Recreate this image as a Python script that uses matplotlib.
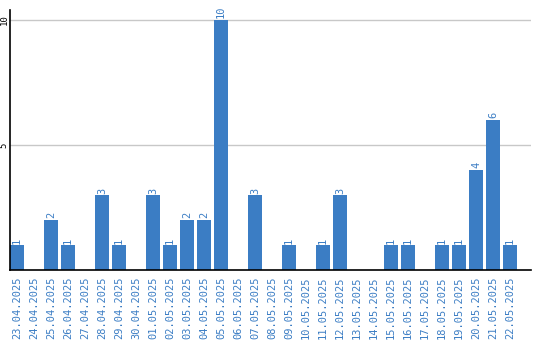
import matplotlib
matplotlib.use("Agg")
import matplotlib.pyplot as plt

dates = ["23.04.2025", "24.04.2025", "25.04.2025", "26.04.2025", "27.04.2025",
         "28.04.2025", "29.04.2025", "30.04.2025", "01.05.2025", "02.05.2025",
         "03.05.2025", "04.05.2025", "05.05.2025", "06.05.2025", "07.05.2025",
         "08.05.2025", "09.05.2025", "10.05.2025", "11.05.2025", "12.05.2025",
         "13.05.2025", "14.05.2025", "15.05.2025", "16.05.2025", "17.05.2025",
         "18.05.2025", "19.05.2025", "20.05.2025", "21.05.2025", "22.05.2025"]
values = [1, 0, 2, 1, 0, 3, 1, 0, 3, 1, 2, 2, 10, 0, 3, 0, 1, 0, 1, 3,
          0, 0, 1, 1, 0, 1, 1, 4, 6, 1]
yticks = [5, 10]

blue = "#3b7dc4"
font = "DejaVu Sans Mono"

fig = plt.figure(figsize=(5.4, 3.4), dpi=100)
W, H = 540, 340
left, right, top, bottom = 10, 531, 10, 270
ax = fig.add_axes([left / W, 1 - bottom / H, (right - left) / W, (bottom - top) / H])

x = list(range(len(values)))
ax.bar(x, values, width=14 / 17, color=blue, zorder=2)
ax.set_xlim(-7 / 17, (right - 17) / 17)
ymax = 10 * (bottom - top) / (bottom - 20)
ax.set_ylim(0, ymax)

for xi, v in zip(x, values):
    if v > 0:
        ax.text(xi, v + 0.06, str(v), rotation=90, ha="center", va="bottom",
                color=blue, fontsize=7.5, family=font)

ax.set_yticks(yticks)
ax.set_yticklabels([str(t) for t in yticks], rotation=90, va="center",
                   fontsize=6.5, family=font)
ax.tick_params(axis="y", length=0, pad=1)
ax.grid(axis="y", color="#c8c8c8", linewidth=1, zorder=0)

ax.set_xticks(x)
ax.set_xticklabels(dates, rotation=90, color=blue, fontsize=7.5, family=font)
ax.tick_params(axis="x", length=0, pad=5)

for s in ["top", "right"]:
    ax.spines[s].set_visible(False)
ax.spines["left"].set_color("black")
ax.spines["bottom"].set_color("black")
ax.spines["left"].set_linewidth(1.2)
ax.spines["bottom"].set_linewidth(1.2)

fig.savefig("out.png", dpi=100)
